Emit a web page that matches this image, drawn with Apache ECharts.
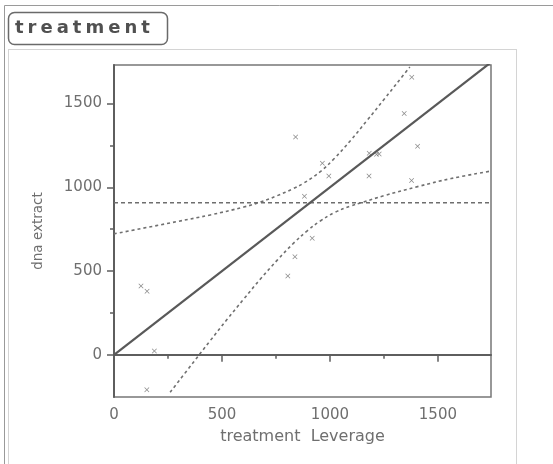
<!DOCTYPE html>
<html>
<head>
<meta charset="utf-8">
<script src="https://cdn.jsdelivr.net/npm/echarts@6/dist/echarts.min.js"></script>
<style>
  html, body { margin: 0; padding: 0; background: #fff; }
  #chart { width: 553px; height: 464px; }
</style>
</head>
<body>
<div id="chart"></div>
<script>
// Leverage plot of dna extract against the treatment effect

// observed points: leverage value (x) and dna extract (y)
const leverageX = [841, 1379, 1344, 1406, 1182, 1216, 1228, 965, 995, 1181, 1378, 882, 918, 838, 805, 125, 153, 187, 152];
const dnaY      = [1300, 1657, 1440, 1245, 1203, 1197, 1199, 1143, 1067, 1067, 1040, 947, 695, 585, 471, 410, 379, 22, -209];

// fitted line (slope 1 in leverage space)
const fitX = [0, 1746];
const fitY = [0, 1746];

// mean of the response (horizontal reference line)
const meanX = [0, 1746];
const meanY = [908, 908];

// confidence curve: branch above the fit on the left, steep on the right
const upperBandX = [0, 291, 446, 601, 678, 756, 830, 879, 957, 1019, 1096, 1174, 1251, 1328, 1370];
const upperBandY = [722, 795, 835, 882, 912, 950, 992, 1025, 1095, 1170, 1280, 1402, 1525, 1650, 1718];

// confidence curve: branch below the fit, steep on the left, flat on the right
const lowerBandX = [260, 368, 446, 523, 601, 678, 756, 833, 895, 957, 1019, 1096, 1150, 1251, 1406, 1561, 1746];
const lowerBandY = [-224, -44, 85, 210, 333, 452, 565, 668, 740, 800, 848, 888, 910, 950, 1004, 1052, 1097];

// axis ranges and ticks
const xRange = [0, 1746];
const yRange = [-252, 1730];
const xMajorTicks = [0, 500, 1000, 1500];
const xMinorTicks = [250, 750, 1250];
const yMajorTicks = [0, 500, 1000, 1500];
const yMinorTicks = [250, 750, 1250];

const zip = (a, b) => a.map((v, i) => [v, b[i]]);
const plain = (v) => String(v);

const labelFont = { fontFamily: 'DejaVu Sans', fontSize: 15, color: '#6f6f6f', formatter: plain };
const axisColor = '#5e5e5e';
const gridBox = { left: 114, right: 62, top: 65, bottom: 67 };

const crossSymbol = 'path://M0,1L1,0L5,4L9,0L10,1L6,5L10,9L9,10L5,6L1,10L0,9L4,5Z';

// panel title, each letter a fragment so it can be spaced out
const titleText = 'treatment';
const titleRich = titleText.split('').map((ch) => '{c|' + ch + '}').join('');

const chart = echarts.init(document.getElementById('chart'), null, { renderer: 'canvas' });

chart.setOption({
  animation: false,
  backgroundColor: '#fff',
  graphic: [
    { type: 'rect', z: -10, shape: { x: 4.5, y: 5.5, width: 580, height: 480 },
      style: { fill: 'none', stroke: '#9a9a9a', lineWidth: 1 } },
    { type: 'rect', z: -10, shape: { x: 8.5, y: 49.5, width: 508, height: 440 },
      style: { fill: 'none', stroke: '#a8a8a8', lineWidth: 1, lineDash: [1, 1] } },
    { type: 'rect', z: -5, shape: { x: 8.5, y: 12.5, width: 159, height: 32, r: 6 },
      style: { fill: '#fff', stroke: '#6a6a6a', lineWidth: 1.5 } },
    { type: 'text', z: -4, x: 13, y: 28,
      style: {
        text: titleRich, fill: '#505050', verticalAlign: 'middle',
        rich: { c: { fontFamily: 'DejaVu Sans', fontWeight: 'bold', fontSize: 18, color: '#505050', padding: [0, 2, 0, 2] } }
      } }
  ],
  grid: [
    Object.assign({ show: true, borderColor: '#777', borderWidth: 1.5, backgroundColor: '#fff' }, gridBox),
    Object.assign({ show: false }, gridBox)
  ],
  xAxis: [
    {
      type: 'value', gridIndex: 0, min: xRange[0], max: xRange[1], position: 'bottom',
      name: 'treatment  Leverage', nameLocation: 'middle', nameGap: 32,
      nameTextStyle: { fontFamily: 'DejaVu Sans', fontSize: 16, color: '#6f6f6f' },
      axisLine: { show: true, lineStyle: { color: axisColor, width: 2 } },
      axisTick: { show: true, customValues: xMajorTicks, length: 7, lineStyle: { color: axisColor, width: 1.5 } },
      axisLabel: Object.assign({ customValues: xMajorTicks, margin: 11 }, labelFont),
      splitLine: { show: false }
    },
    {
      type: 'value', gridIndex: 1, min: xRange[0], max: xRange[1], position: 'bottom',
      axisLine: { show: false },
      axisTick: { show: true, customValues: xMinorTicks, length: 4, lineStyle: { color: axisColor, width: 1.5 } },
      axisLabel: { show: false },
      splitLine: { show: false }
    }
  ],
  yAxis: [
    {
      type: 'value', gridIndex: 0, min: yRange[0], max: yRange[1], position: 'left',
      name: 'dna extract', nameLocation: 'middle', nameGap: 69,
      nameTextStyle: { fontFamily: 'DejaVu Sans', fontSize: 13.5, color: '#6f6f6f' },
      axisLine: { show: true, lineStyle: { color: axisColor, width: 2 } },
      axisTick: { show: true, customValues: yMajorTicks, length: 7, lineStyle: { color: axisColor, width: 1.5 } },
      axisLabel: Object.assign({ customValues: yMajorTicks, margin: 12 }, labelFont),
      splitLine: { show: false }
    },
    {
      type: 'value', gridIndex: 1, min: yRange[0], max: yRange[1], position: 'left',
      axisLine: { show: false },
      axisTick: { show: true, customValues: yMinorTicks, length: 4, lineStyle: { color: axisColor, width: 1.5 } },
      axisLabel: { show: false },
      splitLine: { show: false }
    }
  ],
  series: [
    {
      name: 'mean', type: 'line', xAxisIndex: 0, yAxisIndex: 0, data: zip(meanX, meanY),
      symbol: 'none', silent: true,
      lineStyle: { color: '#6e6e6e', width: 1.6, type: [4, 3] }
    },
    {
      name: 'upper band', type: 'line', xAxisIndex: 0, yAxisIndex: 0, data: zip(upperBandX, upperBandY),
      symbol: 'none', smooth: 0.4, silent: true,
      lineStyle: { color: '#707070', width: 1.6, type: [3, 3] }
    },
    {
      name: 'lower band', type: 'line', xAxisIndex: 0, yAxisIndex: 0, data: zip(lowerBandX, lowerBandY),
      symbol: 'none', smooth: 0.4, silent: true,
      lineStyle: { color: '#707070', width: 1.6, type: [3, 3] }
    },
    {
      name: 'fit', type: 'line', xAxisIndex: 0, yAxisIndex: 0, data: zip(fitX, fitY),
      symbol: 'none', silent: true, clip: true,
      lineStyle: { color: '#595959', width: 2.2 }
    },
    {
      name: 'dna extract', type: 'scatter', xAxisIndex: 0, yAxisIndex: 0, data: zip(leverageX, dnaY),
      symbol: crossSymbol, symbolSize: 5, silent: true,
      itemStyle: { color: '#6a6a6a' }
    }
  ]
});
</script>
</body>
</html>
